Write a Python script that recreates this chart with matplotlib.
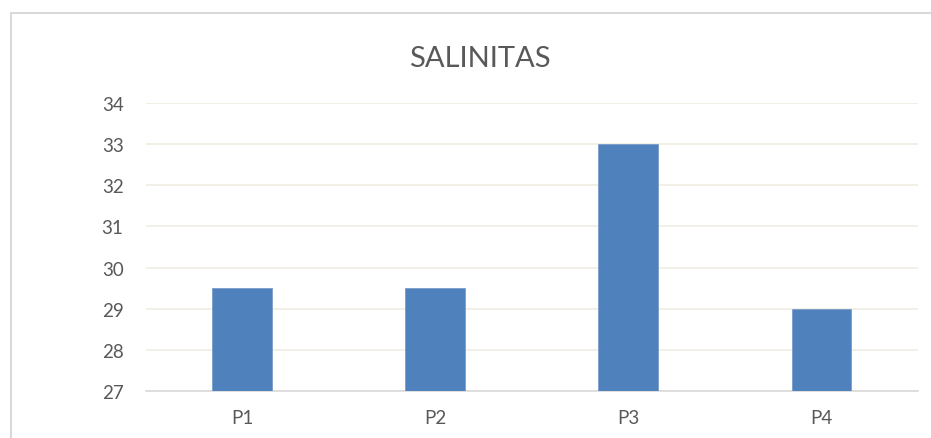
import matplotlib.pyplot as plt
from matplotlib.patches import Rectangle

categorias = ['P1', 'P2', 'P3', 'P4']
salinidad = [29.5, 29.5, 33.0, 29.0]
yticks = [27, 28, 29, 30, 31, 32, 33, 34]

plt.rcParams['font.family'] = ['Lato', 'DejaVu Sans']

fig = plt.figure(figsize=(9.31, 4.39), dpi=100)
ax = fig.add_axes([0.1565, 0.107, 0.8295, 0.656])

# borde del area del grafico (recortado a la derecha y abajo)
fig.patches.append(Rectangle((11/931, -0.1), 1.2, 0.968 + 0.1, transform=fig.transFigure,
                             fill=False, edgecolor='#d9d9d9', linewidth=1.5))

x = range(len(categorias))
ax.bar(x, salinidad, width=0.31, bottom=0, color='#4f81bd', edgecolor='#7a9ccb',
       linewidth=0.6, zorder=3)

ax.set_ylim(27, 34)
ax.set_xlim(-0.5, 3.5)
ax.set_yticks(yticks)
ax.set_xticks(list(x))
ax.set_xticklabels(categorias)
ax.grid(axis='y', color='#efece2', linewidth=1.2, zorder=0)
for s in ['top', 'right', 'left']:
    ax.spines[s].set_visible(False)
ax.spines['bottom'].set_color('#d9d9d9')
ax.spines['bottom'].set_linewidth(1.2)
ax.tick_params(axis='both', length=0, colors='#595959', labelsize=13.5)
ax.tick_params(axis='x', pad=13)
ax.tick_params(axis='y', pad=16)

fig.text(0.515, 0.866, 'SALINITAS', ha='center', va='center', fontsize=21, color='#595959')

fig.savefig('out.png', dpi=100)
